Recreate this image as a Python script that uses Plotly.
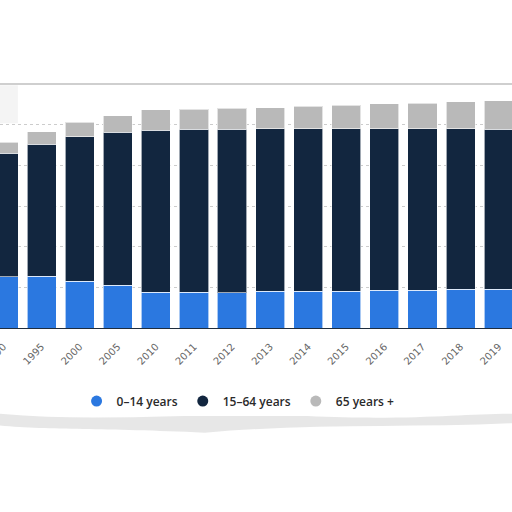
import plotly.graph_objects as go

# años y valores (en millones aprox.)
anios = ["1990", "1995", "2000", "2005", "2010", "2011", "2012", "2013",
         "2014", "2015", "2016", "2017", "2018", "2019"]
edad_0_14 = [12.6, 12.8, 11.5, 10.5, 8.8, 8.8, 8.7, 9.0, 9.1, 9.1, 9.3, 9.3, 9.5, 9.5]
edad_15_64 = [30.4, 32.5, 35.6, 37.7, 39.9, 40.1, 40.2, 40.0, 39.9, 39.9, 39.7, 39.7, 39.5, 39.4]
edad_65 = [2.7, 3.0, 3.5, 4.1, 5.0, 4.9, 5.2, 5.2, 5.6, 5.9, 6.2, 6.4, 6.7, 7.0]

nombres = ["0–14 years", "15–64 years", "65 years +"]
colores = ["#2b78e0", "#12263f", "#b9b9b9"]

fig = go.Figure()
for nombre, valores, color in zip(nombres, [edad_0_14, edad_15_64, edad_65], colores):
    fig.add_trace(go.Bar(x=anios, y=valores, name=nombre, showlegend=False,
                         marker=dict(color=color, line=dict(color="rgba(255,255,255,0.6)", width=1))))
# leyenda con circulos
for nombre, color in zip(nombres, colores):
    fig.add_trace(go.Scatter(x=[None], y=[None], mode="markers", name=nombre,
                             marker=dict(symbol="circle", size=11, color=color)))

fig.update_layout(
    width=512, height=512,
    margin=dict(l=0, r=0, t=90, b=184, autoexpand=False),
    barmode="stack", bargap=0.235,
    plot_bgcolor="white", paper_bgcolor="white",
    font=dict(family="DejaVu Sans", color="#333333"),
    legend=dict(orientation="h", x=0.465, xanchor="center", y=-0.307, yanchor="middle",
                font=dict(family="Open Sans", size=12, color="#2a2a2a", weight=600),
                itemwidth=30, traceorder="normal"),
    shapes=[
        # borde superior del papel
        dict(type="line", xref="paper", yref="paper", x0=0.0, x1=1.0, y0=1.025, y1=1.025,
             line=dict(color="#cfcfcf", width=2), layer="above"),
        dict(type="rect", xref="paper", yref="paper", x0=0.0, x1=0.035, y0=0.86, y1=1.02,
             fillcolor="rgba(220,220,220,0.3)", line=dict(width=0), layer="below"),
        # borde inferior rasgado
        dict(type="path", xref="paper", yref="paper",
             path="M 0,-0.36 C 0.2,-0.40 0.4,-0.35 0.6,-0.37 C 0.8,-0.39 0.9,-0.36 1,-0.36 "
                  "L 1,-0.40 C 0.8,-0.42 0.6,-0.40 0.4,-0.44 C 0.2,-0.42 0.1,-0.43 0,-0.41 Z",
             fillcolor="rgba(215,215,215,0.6)", line=dict(width=0), layer="below"),
    ],
)
fig.update_xaxes(type="category", range=[-0.092, 13.35], tickangle=-45, automargin=False,
                 tickfont=dict(size=10, color="#666666"), showline=True,
                 linecolor="#1f2d3d", linewidth=1, ticks="outside", ticklen=8,
                 tickcolor="rgba(0,0,0,0)", showgrid=False)
fig.update_yaxes(range=[0, 58.6], dtick=10, showticklabels=False, showgrid=True, automargin=False,
                 gridcolor="#cccccc", griddash="dot", gridwidth=1, zeroline=False)

fig.write_html("out.html", config={"displayModeBar": False},
               post_script="document.body.style.margin='0';")
